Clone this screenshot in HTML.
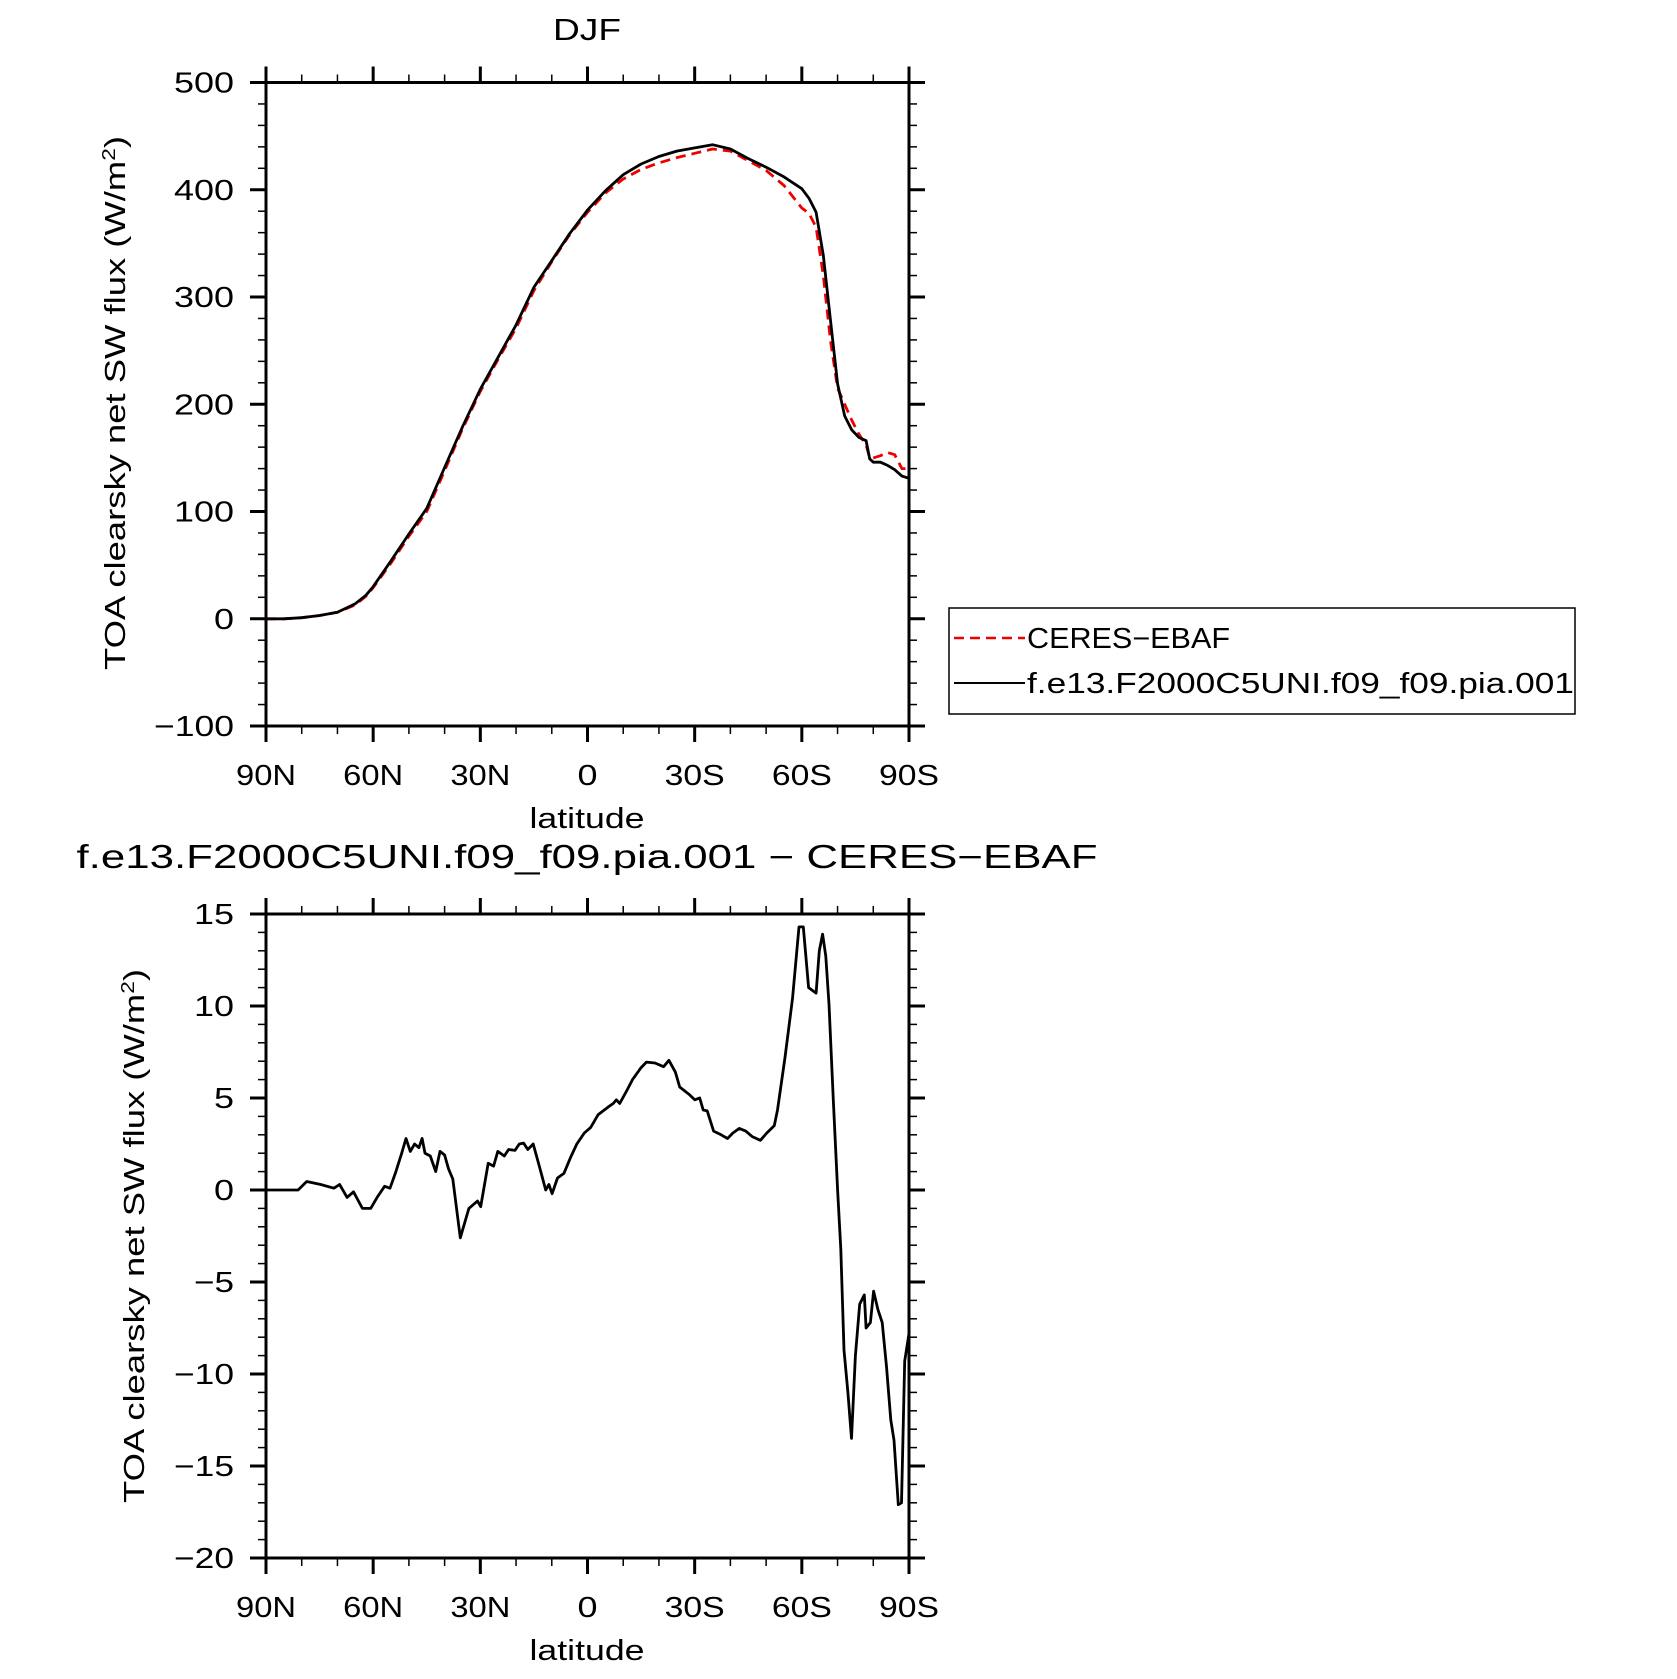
<!DOCTYPE html>
<html><head><meta charset="utf-8"><style>
html,body{margin:0;padding:0;background:#fff;}
svg text{font-family:"Liberation Sans","DejaVu Sans",sans-serif;fill:#000;}
</style></head><body>
<svg id="chart" width="1677" height="1674" viewBox="0 0 1677 1674" xmlns="http://www.w3.org/2000/svg">
<g id="top"></g>
<g id="bot"></g>
<g id="legend">
  <rect x="949" y="608" width="626" height="106" fill="#fff" stroke="#000" stroke-width="1.5"/>
  <line x1="954" y1="638" x2="1025" y2="638" stroke="#e00" stroke-width="2.5" stroke-dasharray="10,6"/>
  <text x="1027" y="648" font-size="29" textLength="203" lengthAdjust="spacingAndGlyphs">CERES−EBAF</text>
  <line x1="954" y1="683" x2="1025" y2="683" stroke="#000" stroke-width="2"/>
  <text x="1027" y="693" font-size="29" textLength="547" lengthAdjust="spacingAndGlyphs">f.e13.F2000C5UNI.f09_f09.pia.001</text>
</g>
</svg>
<script>
const latTop = [90,85,80,75,70,65,62,60,55,50,45,40,35,30,25,20,15,10,5,0,-5,-10,-15,-20,-25,-30,-35,-40,-45,-50,-55,-60,-62,-64,-66,-68,-70,-72,-74,-76,-78,-79,-80,-82,-84,-86,-88,-90];
const modelVals = [0,0,1,3,6,14,22,30,54,79,103,141,179,214,244,274,309,334,359,381,399,414,424,431,436,439,442,438,429,421,412,401,392,379,339,279,219,189,176,169,166,149,146,146,143,139,133,131];
const ceresVals = [0,0,1,3,6,13,21,29,52,77,100,138,177,212,242,271,306,333,358,379,397,410,419,425,430,434,438,436,427,418,404,383,378,365,320,260,215,200,185,172,162,150,150,152,155,153,140,140];
const latDiff = [90,81,78.6,74.7,71,69.4,67.3,65.5,63,60.7,58.9,56.8,55.3,53.8,52,50.8,49.6,48.4,47.2,46.3,45.5,44,42.5,41.3,40,38.9,37.7,35.6,33.2,30.8,29.9,27.8,26.3,25.1,23.3,22.1,20.3,19.1,17.9,16.7,15.2,13.5,11.7,10.8,9.9,8.4,6.6,4.8,3,0.9,-0.9,-3,-5.7,-7.2,-8.1,-9,-11,-12.6,-15,-16.5,-18.9,-21.3,-22.8,-24.6,-25.8,-28.4,-30,-31.4,-32.4,-33.5,-35.3,-37.4,-39.2,-40.7,-42.5,-44.3,-46.1,-48.4,-50.2,-52.3,-53.2,-55.3,-57.4,-59.2,-60.4,-61.9,-64,-64.9,-65.8,-66.7,-67.6,-68.8,-70,-70.9,-71.8,-72.9,-73.9,-75,-76.2,-77.5,-78,-79.2,-80.1,-81.3,-82.5,-83.7,-84.9,-85.8,-87,-87.9,-88.8,-90];
const diffVals = [0,0,0.46,0.3,0.1,0.3,-0.4,-0.1,-1.0,-1.0,-0.4,0.2,0.1,0.9,2.0,2.8,2.1,2.5,2.3,2.8,2.0,1.85,1.0,2.1,1.9,1.15,0.6,-2.6,-1.0,-0.6,-0.9,1.45,1.3,2.1,1.85,2.2,2.15,2.5,2.55,2.2,2.5,1.3,0,0.3,-0.2,0.65,0.9,1.75,2.5,3.1,3.4,4.1,4.5,4.7,4.9,4.7,5.4,6.0,6.65,6.95,6.9,6.7,7.05,6.4,5.6,5.2,4.9,5.0,4.35,4.3,3.2,3.0,2.8,3.1,3.35,3.2,2.9,2.7,3.1,3.5,4.35,7.2,10.4,14.3,14.3,11.0,10.7,13.0,13.9,12.7,10.1,4.9,0,-3.2,-8.7,-11.0,-13.5,-9.0,-6.2,-5.7,-7.5,-7.2,-5.5,-6.5,-7.2,-9.6,-12.5,-13.6,-17.1,-17.0,-9.3,-7.8];
const xTickLabels = ["90N","60N","30N","0","30S","60S","90S"];
const topYTicks = [500,400,300,200,100,0,-100];
const botYTicks = [15,10,5,0,-5,-10,-15,-20];

const NS="http://www.w3.org/2000/svg";
function mk(parent,tag,attrs){const e=document.createElementNS(NS,tag);for(const k in attrs)e.setAttribute(k,attrs[k]);parent.appendChild(e);return e;}
function charW(s){return s.length*20;}

function panel(g,cfg){
  const X0=266,X1=909,Y0=cfg.yTop,Y1=cfg.yBot;
  const sx=lat=>X0+(90-lat)/180*(X1-X0);
  const sy=v=>Y0+(cfg.vmax-v)/(cfg.vmax-cfg.vmin)*(Y1-Y0);
  const fr=mk(g,'rect',{x:X0,y:Y0,width:X1-X0,height:Y1-Y0,fill:'none',stroke:'#000','stroke-width':3});
  
  
  for(let lat=90;lat>=-90;lat-=10){
    const major=lat%30===0, L=major?16:8, x=sx(lat);
    const t1=mk(g,'line',{x1:x,y1:Y0,x2:x,y2:Y0-L,stroke:'#000','stroke-width':major?3:1.5});
    
    
    const t2=mk(g,'line',{x1:x,y1:Y1,x2:x,y2:Y1+L,stroke:'#000','stroke-width':major?3:1.5});
    
    
  }
  xTickLabels.forEach((s,i)=>{
    const t=mk(g,'text',{x:sx(90-30*i),y:Y1+59,'font-size':29,'text-anchor':'middle',textLength:charW(s),lengthAdjust:'spacingAndGlyphs'});
    t.textContent=s;
    
    
  });
  for(let v=cfg.vmin;v<=cfg.vmax+1e-9;v+=cfg.minor){
    const major=Math.abs(v/cfg.major-Math.round(v/cfg.major))<1e-6, L=major?16:8, y=sy(v);
    const a=mk(g,'line',{x1:X0,y1:y,x2:X0-L,y2:y,stroke:'#000','stroke-width':major?3:1.5});
    
    
    const b=mk(g,'line',{x1:X1,y1:y,x2:X1+L,y2:y,stroke:'#000','stroke-width':major?3:1.5});
    
    
  }
  cfg.ticks.forEach(v=>{
    const s=String(v).replace('-','−');
    const t=mk(g,'text',{x:X0-32,y:sy(v)+10,'font-size':29,'text-anchor':'end',textLength:charW(s)-(v<0?0:0),lengthAdjust:'spacingAndGlyphs'});
    t.textContent=s;
    
    
  });
  const xl=mk(g,'text',{x:587,y:Y1+102,'font-size':29,'text-anchor':'middle',textLength:115,lengthAdjust:'spacingAndGlyphs'});
  xl.textContent='latitude';
  
  
  const yl=mk(g,'text',{x:0,y:0,'font-size':29,'text-anchor':'middle',textLength:534,lengthAdjust:'spacingAndGlyphs',transform:`translate(${cfg.ylx},${cfg.ylc}) rotate(-90)`});
  yl.innerHTML='TOA clearsky net SW flux (W/m<tspan dy="-10" font-size="18">2</tspan><tspan dy="10">)</tspan>';
  
  
  const tt=mk(g,'text',{x:cfg.titleX,y:cfg.titleY,'font-size':cfg.titleSize,'text-anchor':'middle',textLength:cfg.titleLen,lengthAdjust:'spacingAndGlyphs'});
  tt.textContent=cfg.title;
  
  
  return {sx,sy};
}
function series(g,lats,vals,sx,sy,color,dash,name){
  const d=lats.map((l,i)=>(i?'L':'M')+sx(l).toFixed(1)+','+sy(vals[i]).toFixed(1)).join(' ');
  const p=mk(g,'path',{d,fill:'none',stroke:color,'stroke-width':2.8,'stroke-linejoin':'round'});
  if(dash)p.setAttribute('stroke-dasharray',dash);
  
  
}
const gt=document.getElementById('top');
const a=panel(gt,{yTop:82.5,yBot:726,vmin:-100,vmax:500,minor:20,major:100,ticks:topYTicks,ylx:125,ylc:403,title:'DJF',titleX:587,titleY:40,titleSize:31,titleLen:68});
series(gt,latTop,ceresVals,a.sx,a.sy,'#e00','10,6','ceres-line');
series(gt,latTop,modelVals,a.sx,a.sy,'#000',null,'model-line');
const gb=document.getElementById('bot');
const b=panel(gb,{yTop:914,yBot:1558,vmin:-20,vmax:15,minor:1,major:5,ticks:botYTicks,ylx:144,ylc:1236,title:'f.e13.F2000C5UNI.f09_f09.pia.001 − CERES−EBAF',titleX:587,titleY:868,titleSize:33,titleLen:1021});
series(gb,latDiff,diffVals,b.sx,b.sy,'#000',null,'difference-line');
</script>
</body></html>
